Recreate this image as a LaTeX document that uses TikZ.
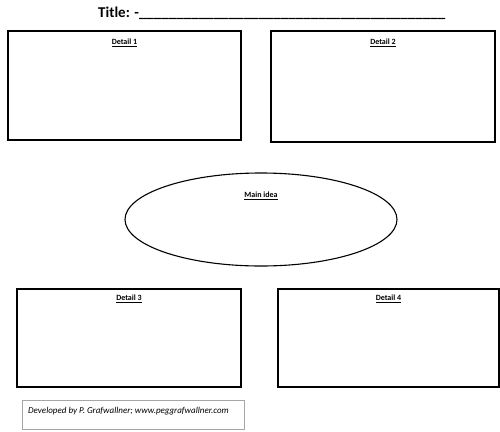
\documentclass[tikz,border=0pt]{standalone}
\usepackage{fontspec}
\setmainfont{Carlito}
\newcommand{\boxLabel}[2]{%%
  \node[labelStyle] at (#1) {\underline{#2}};
}

\begin{document}
\begin{tikzpicture}[x=1pt,y=-1pt,%%
  boxStyle/.style={draw,line width=1.3pt,black},%%
  ellipseStyle/.style={draw,line width=1.1pt,black},%%
  footerStyle/.style={draw,line width=0.8pt,black!35},%%
  labelStyle/.style={inner sep=0pt,font=\fontsize{8}{9.5}\selectfont\bfseries},%%
  titleStyle/.style={anchor=base west,inner sep=0pt,font=\fontsize{15}{18}\selectfont\bfseries},%%
  footerText/.style={anchor=base west,inner sep=0pt,font=\fontsize{9}{11}\selectfont\itshape}%%
]
%%
\useasboundingbox (0,0) rectangle (500,431);
%%
%% Corners of the boxes.
\coordinate (dOneLowerLeft) at (8,140);
\coordinate (dOneUpperRight) at (241,31);
\coordinate (dTwoLowerLeft) at (271,142);
\coordinate (dTwoUpperRight) at (495,31);
\coordinate (dThreeLowerLeft) at (17,387);
\coordinate (dThreeUpperRight) at (241,289);
\coordinate (dFourLowerLeft) at (278,387);
\coordinate (dFourUpperRight) at (499,289);
\coordinate (footLowerLeft) at (22,429);
\coordinate (footUpperRight) at (244,400);
\coordinate (centre) at (261,219.5);
%%
%% The title.
\node[titleStyle] (title) at (98,17) {Title: -\_\_\_\_\_\_\_\_\_\_\_\_\_\_\_\_\_\_\_\_\_\_\_\_\_\_\_\_\_\_\_\_\_\_\_\_\_\_\_\_\_};
%%
%% The four boxes.
\draw[boxStyle] (dOneLowerLeft) rectangle (dOneUpperRight);
\draw[boxStyle] (dTwoLowerLeft) rectangle (dTwoUpperRight);
\draw[boxStyle] (dThreeLowerLeft) rectangle (dThreeUpperRight);
\draw[boxStyle] (dFourLowerLeft) rectangle (dFourUpperRight);
\boxLabel{124.5,43}{Detail 1}
\boxLabel{383,43}{Detail 2}
\boxLabel{129,299}{Detail 3}
\boxLabel{388.5,299}{Detail 4}
%%
%% The main idea.
\draw[ellipseStyle] (centre) ellipse[x radius=136pt,y radius=46.5pt];
\boxLabel{261,196}{Main idea}
%%
%% The footer.
\draw[footerStyle] (footLowerLeft) rectangle (footUpperRight);
\node[footerText] (credit) at (28,413) {Developed by P. Grafwallner; www.peggrafwallner.com};
\end{tikzpicture}
\end{document}
